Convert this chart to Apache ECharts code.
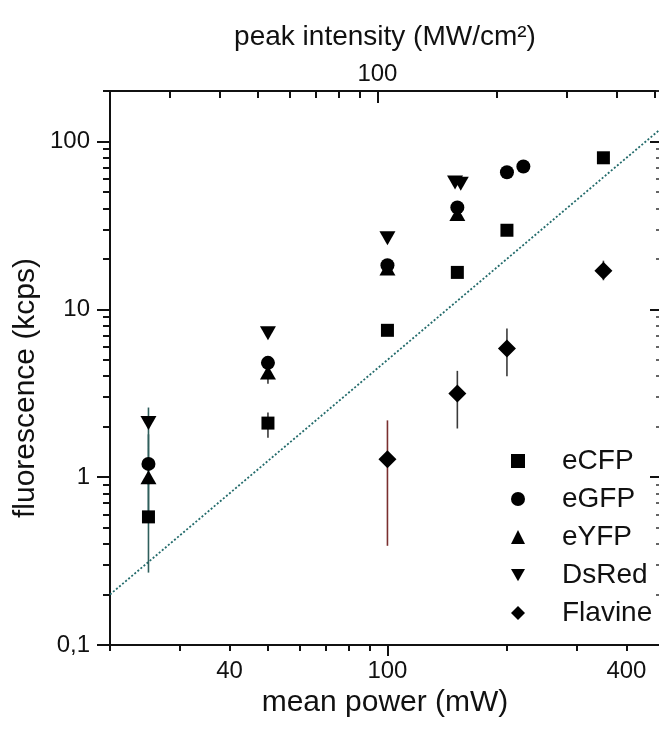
<!DOCTYPE html>
<html><head><meta charset="utf-8">
<script src="https://cdn.jsdelivr.net/npm/echarts@6/dist/echarts.min.js"></script>
<style>html,body{margin:0;padding:0;background:#fff}#c{width:659px;height:738px}</style>
</head><body><div id="c"></div>
<script>
// ---- data (mean power mW, fluorescence kcps) ----
const seriesNames = ['eCFP', 'eGFP', 'eYFP', 'DsRed', 'Flavine'];
const eCFP_x = [25, 50, 100, 150, 200, 350];
const eCFP_y = [0.58, 2.1, 7.5, 16.6, 29.6, 80];
const eGFP_x = [25, 50, 100, 150, 200, 220];
const eGFP_y = [1.2, 4.8, 18.3, 40.5, 65.6, 71];
const eYFP_x = [25, 50, 100, 150];
const eYFP_y = [1.0, 4.2, 17.5, 37];
const DsRed_x = [25, 50, 100, 148, 153];
const DsRed_y = [2.1, 7.2, 26.5, 57, 56];
const Flavine_x = [100, 150, 200, 350];
const Flavine_y = [1.28, 3.15, 5.85, 17];

// error bars
const errTeal_x = [25, 25, 25, 25];
const errTeal_lo = [0.27, 0.6, 0.9, 1.5];
const errTeal_hi = [1.0, 1.5, 1.8, 2.6];
const errRed_x = [100];
const errRed_lo = [0.39];
const errRed_hi = [2.18];
const errGray_x = [50, 50, 150, 200, 350];
const errGray_lo = [1.72, 3.6, 1.95, 4.0, 14.9];
const errGray_hi = [2.43, 4.2, 4.3, 7.7, 19.5];

// dotted reference line (slope 2)
const fitX = [20, 486];
const fitY = [0.2, 118];

// ticks / labels
const xMinorTicks = [20, 30, 40, 50, 60, 70, 80, 90, 200, 300, 400];
const xMajorTicks = [100];
const xLabels = [40, 100, 400];
const topMinorTicks = [30, 40, 50, 60, 70, 80, 90, 200, 300, 400, 500];
const topMajorTicks = [100];
const topLabels = [100];
const yMinorTicks = [0.2, 0.3, 0.4, 0.5, 0.6, 0.7, 0.8, 0.9, 2, 3, 4, 5, 6, 7, 8, 9, 20, 30, 40, 50, 60, 70, 80, 90, 200];
const yMajorTicks = [0.1, 1, 10, 100];
const yLabels = [0.1, 1, 10, 100];

// ---- chart ----
const FONT = 'Liberation Sans, Arial, sans-serif';
const INK = '#111';
const DOWN_TRI = 'path://M0,0L16,0L8,14Z';
const chart = echarts.init(document.getElementById('c'), null, {renderer: 'canvas'});
const zip = (xs, ys) => xs.map((x, i) => [x, ys[i]]);
const zip3 = (xs, a, b) => xs.map((x, i) => [x, a[i], b[i]]);

function errSeries(name, data, color) {
  return {
    name: name, type: 'custom', xAxisIndex: 0, yAxisIndex: 0, z: 1, silent: true,
    encode: {x: 0, y: [1, 2]},
    data: data,
    renderItem: function (params, api) {
      const x = api.value(0), lo = api.value(1), hi = api.value(2);
      const p1 = api.coord([x, lo]), p2 = api.coord([x, hi]);
      return {type: 'line', shape: {x1: p1[0], y1: p1[1], x2: p2[0], y2: p2[1]},
              style: {stroke: color, lineWidth: 1.6}};
    }
  };
}
function logX(pos, min, max, extra) {
  return Object.assign({
    type: 'log', logBase: 10, gridIndex: 0, position: pos, min: min, max: max,
    splitLine: {show: false}, minorTick: {show: false}, minorSplitLine: {show: false},
    axisLine: {show: false}, axisLabel: {show: false}
  }, extra);
}
const tickStyle = {color: INK, width: 2};
const labelStyle = {fontSize: 24, color: INK, fontFamily: FONT};
const markStyle = {color: '#000', opacity: 1};

const option = {
  animation: false,
  backgroundColor: '#fff',
  grid: {left: 110, right: -1, top: 91, bottom: 93, containLabel: false, outerBoundsMode: 'none'},
  legend: {
    orient: 'vertical', left: 506, top: 442, itemWidth: 14, itemHeight: 14, itemGap: 10,
    selectedMode: false, data: seriesNames,
    itemStyle: {opacity: 1},
    textStyle: {fontSize: 28, lineHeight: 28, color: INK, fontFamily: FONT, padding: [0, 0, 0, 32]}
  },
  graphic: [{
    type: 'text', x: 26, y: 388, rotation: Math.PI / 2,
    style: {text: 'fluorescence (kcps)', fontSize: 30, fontFamily: FONT, fill: INK, align: 'center', verticalAlign: 'middle'}
  }],
  xAxis: [
    logX('bottom', 20, 486, {
      axisLine: {show: true, lineStyle: {color: INK, width: 2}},
      axisTick: {show: true, inside: false, length: 6, lineStyle: tickStyle, customValues: xMinorTicks},
      axisLabel: Object.assign({show: true, margin: 14, customValues: xLabels, formatter: v => String(Math.round(v))}, labelStyle),
      name: 'mean power (mW)', nameLocation: 'middle', nameGap: 40,
      nameTextStyle: {fontSize: 30, color: INK, fontFamily: FONT}
    }),
    logX('bottom', 20, 486, {
      axisTick: {show: true, inside: false, length: 11, lineStyle: tickStyle, customValues: xMajorTicks}
    }),
    logX('top', 21.2, 515, {
      axisLine: {show: true, lineStyle: {color: INK, width: 2}},
      axisTick: {show: true, inside: true, length: 7, lineStyle: tickStyle, customValues: topMinorTicks},
      axisLabel: Object.assign({show: true, margin: 5, customValues: topLabels, formatter: v => String(Math.round(v))}, labelStyle),
      name: 'peak intensity (MW/cm²)', nameLocation: 'middle', nameGap: 40,
      nameTextStyle: {fontSize: 28, color: INK, fontFamily: FONT}
    }),
    logX('top', 21.2, 515, {
      axisTick: {show: true, inside: true, length: 12, lineStyle: tickStyle, customValues: topMajorTicks}
    })
  ],
  yAxis: [
    logX('left', 0.1, 200, {
      axisLine: {show: true, lineStyle: {color: INK, width: 2}},
      axisTick: {show: true, inside: false, length: 7, lineStyle: tickStyle, customValues: yMinorTicks},
      axisLabel: Object.assign({show: true, margin: 20, customValues: yLabels,
        formatter: v => String(+Number(v).toPrecision(3)).replace('.', ',')}, labelStyle)
    }),
    logX('left', 0.1, 200, {
      axisTick: {show: true, inside: false, length: 13, lineStyle: tickStyle, customValues: yMajorTicks}
    }),
    logX('right', 0.1, 200, {
      axisTick: {show: true, inside: true, length: 4, lineStyle: {color: '#333', width: 1.5}, customValues: yMinorTicks}
    }),
    logX('right', 0.1, 200, {
      axisTick: {show: true, inside: true, length: 10, lineStyle: tickStyle, customValues: yMajorTicks}
    })
  ],
  series: [
    {
      name: 'fit', type: 'line', xAxisIndex: 0, yAxisIndex: 0, z: 0, silent: true,
      data: zip(fitX, fitY), symbol: 'none',
      lineStyle: {type: [2, 2], width: 1.8, color: '#236b6b'}
    },
    errSeries('errTeal', zip3(errTeal_x, errTeal_lo, errTeal_hi), '#2f5f5c'),
    errSeries('errRed', zip3(errRed_x, errRed_lo, errRed_hi), '#7a2f2f'),
    errSeries('errGray', zip3(errGray_x, errGray_lo, errGray_hi), '#3a3a3a'),
    {name: 'eCFP', type: 'scatter', z: 3, data: zip(eCFP_x, eCFP_y), symbol: 'rect', symbolSize: 13, itemStyle: markStyle},
    {name: 'eGFP', type: 'scatter', z: 3, data: zip(eGFP_x, eGFP_y), symbol: 'circle', symbolSize: 14, itemStyle: markStyle},
    {name: 'eYFP', type: 'scatter', z: 3, data: zip(eYFP_x, eYFP_y), symbol: 'triangle', symbolSize: [16, 14], itemStyle: markStyle},
    {name: 'DsRed', type: 'scatter', z: 3, data: zip(DsRed_x, DsRed_y), symbol: DOWN_TRI, symbolSize: [16, 14], itemStyle: markStyle},
    {name: 'Flavine', type: 'scatter', z: 3, data: zip(Flavine_x, Flavine_y), symbol: 'diamond', symbolSize: [18, 18], itemStyle: markStyle}
  ]
};
chart.setOption(option);
</script>
</body></html>
